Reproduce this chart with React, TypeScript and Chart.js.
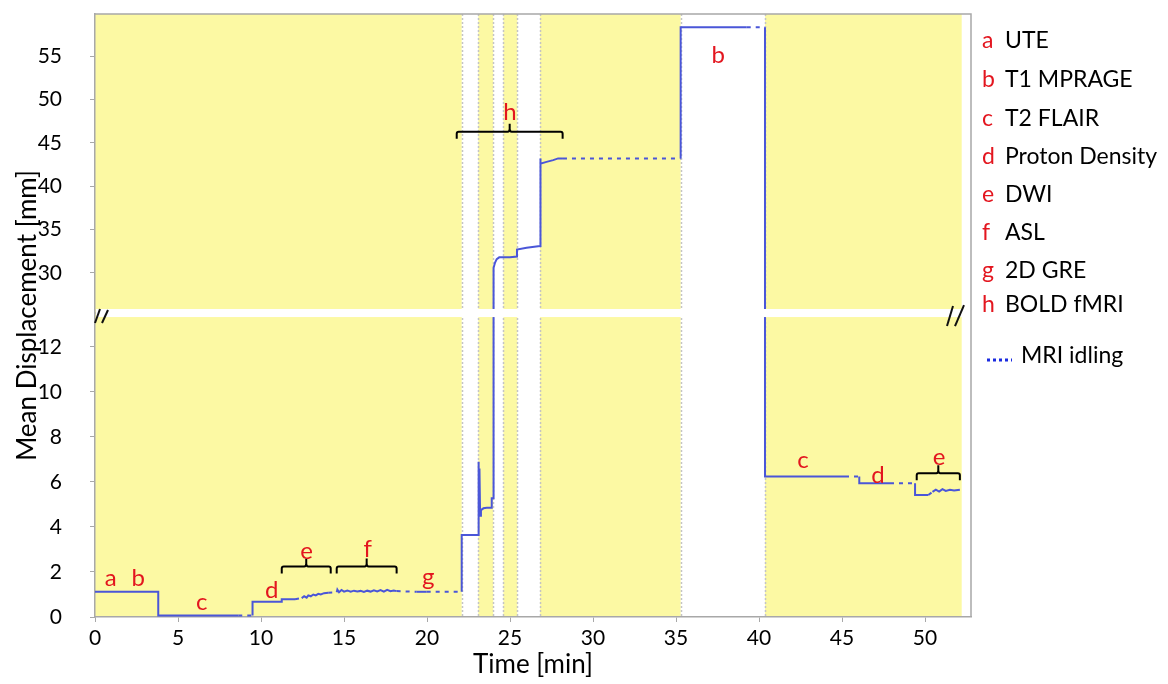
import React, { useEffect, useRef } from 'react';
import { Chart, registerables } from 'chart.js';

Chart.register(...registerables);

const FONT = 'Lato, "Open Sans", sans-serif';
const YELLOW = '#fcf9a3';
const LINE_BLUE = '#4a56d8';
const RED = '#e3161f';
const GREY = '#a8a8a8';

// ---------- data ----------
const timeMin = [
  0, 3.81, 3.81, 8.63, 9.49, 9.49, 11.25, 11.25, 12.05, 12.45,
  12.6, 12.75, 12.85, 13.0, 13.15, 13.3, 13.45, 13.6, 13.8, 14.05,
  14.56, 14.6, 14.7, 14.85, 15.0, 15.2, 15.4, 15.6, 15.8, 16.0,
  16.2, 16.4, 16.6, 16.8, 17.0, 17.2, 17.4, 17.6, 17.8, 18.0,
  18.17, 19.38, 19.98, 22.09, 22.09, 23.09, 23.09, 23.13, 23.16, 23.2,
  23.25, 23.4, 23.6, 23.9, 23.9, 23.99, 23.99, 24.03, 24.1, 24.2,
  24.35, 25.0, 25.42, 25.42, 26.0, 26.81, 26.81, 26.86, 27.2, 27.6,
  27.9, 28.19, 35.28, 35.28, 39.26, 40.36, 40.36, 45.18, 46.04, 46.04,
  47.89, 49.4, 49.4, 50.2, 50.45, 50.65, 50.85, 51.05, 51.25, 51.5,
  51.75, 52.1,
];
const meanDispMm = [
  1.12, 1.12, 0.07, 0.07, 0.07, 0.68, 0.68, 0.79, 0.79, 0.84,
  0.92, 0.86, 0.96, 0.92, 1.0, 0.96, 1.03, 1.0, 1.06, 1.08,
  1.1, 1.22, 1.1, 1.2, 1.13, 1.18, 1.12, 1.17, 1.13, 1.16,
  1.11, 1.17, 1.13, 1.19, 1.14, 1.2, 1.13, 1.21, 1.15, 1.18,
  1.15, 1.12, 1.12, 1.12, 3.64, 3.64, 6.9, 5.2, 6.6, 4.5,
  4.75, 4.83, 4.85, 4.85, 5.28, 5.28, 29.8, 30.6, 31.2, 31.6,
  31.8, 31.8, 31.9, 32.7, 32.9, 33.1, 43.2, 42.6, 42.8, 43.0,
  43.2, 43.2, 43.2, 58.3, 58.3, 58.3, 6.24, 6.24, 6.24, 5.94,
  5.94, 5.94, 5.42, 5.42, 5.56, 5.66, 5.57, 5.68, 5.6, 5.65,
  5.62, 5.66,
];
// MRI idling periods (dotted line)
const idleStart = [8.63, 12.05, 14.05, 18.17, 19.98, 28.19, 39.26, 45.18, 47.89, 50.2];
const idleEnd = [9.49, 12.45, 14.56, 19.38, 22.09, 35.28, 40.36, 46.04, 49.4, 50.45];

// white (non-scanning) gaps in the yellow background
const gapStart = [22.09, 23.99, 25.44, 35.28];
const gapEnd = [23.09, 24.6, 26.81, 40.36];
const yellowEnd = 52.21;
const xMax = 52.77;

// broken y-axis ranges
const lowerMin = 0;
const lowerMax = 13.51;
const upperMin = 25.39;
const upperMax = 59.84;
const breakUpperValue = 25.85;
const breakLowerValue = 13.33;

// legend
const legendLetters = ['a', 'b', 'c', 'd', 'e', 'f', 'g', 'h'];
const legendNames = ['UTE', 'T1 MPRAGE', 'T2 FLAIR', 'Proton Density', 'DWI', 'ASL', '2D GRE', 'BOLD fMRI'];
const idleLabel = 'MRI idling';

// annotation letters on the trace
const annoLetter = ['a', 'b', 'c', 'd', 'e', 'f', 'g', 'h', 'b', 'c', 'd', 'e'];
const annoTime = [0.95, 2.61, 6.43, 10.64, 12.75, 16.43, 20.08, 25.0, 37.55, 42.65, 47.17, 50.84];
const annoValue = [1.38, 1.38, 0.31, 0.84, 2.58, 2.67, 1.42, 47.63, 54.19, 6.62, 5.96, 6.76];
const annoPanel = ['lo', 'lo', 'lo', 'lo', 'lo', 'lo', 'lo', 'hi', 'hi', 'lo', 'lo', 'lo'];

// brackets grouping the scans
const bracketStart = [11.25, 14.56, 21.79, 49.5];
const bracketEnd = [14.2, 18.17, 28.17, 52.1];
const bracketValue = [2.24, 2.24, 46.28, 6.39];
const bracketPanel = ['lo', 'lo', 'hi', 'lo'];

const isIdle = (t: number) => {
  for (let i = 0; i < idleStart.length; i++) {
    if (t > idleStart[i] && t < idleEnd[i]) return true;
  }
  return false;
};

const panelClip = {
  id: 'panelClip',
  beforeDatasetDraw(chart: any, args: any) {
    const ds = chart.data.datasets[args.index];
    const s = chart.scales[ds.yAxisID];
    const a = chart.chartArea;
    chart.ctx.save();
    chart.ctx.beginPath();
    chart.ctx.rect(a.left, s.top, a.right - a.left, s.bottom - s.top);
    chart.ctx.clip();
  },
  afterDatasetDraw(chart: any) {
    chart.ctx.restore();
  },
};

const background = {
  id: 'background',
  beforeDraw(chart: any) {
    const { ctx, chartArea: a, scales } = chart;
    const x = scales.x;
    ctx.save();
    ctx.fillStyle = '#ffffff';
    ctx.fillRect(0, 0, chart.width, chart.height);
    ctx.fillStyle = YELLOW;
    ctx.fillRect(a.left, a.top, x.getPixelForValue(yellowEnd) - a.left, a.bottom - a.top);
    ctx.fillStyle = '#ffffff';
    for (let i = 0; i < gapStart.length; i++) {
      const x0 = x.getPixelForValue(gapStart[i]);
      const x1 = x.getPixelForValue(gapEnd[i]);
      ctx.fillRect(x0, a.top, x1 - x0, a.bottom - a.top);
    }
    ctx.strokeStyle = '#c4c4c4';
    ctx.lineWidth = 1.5;
    ctx.setLineDash([2, 2]);
    const edges = gapStart.concat(gapEnd);
    for (const e of edges) {
      const px = Math.round(x.getPixelForValue(e)) + 0.5;
      ctx.beginPath();
      ctx.moveTo(px, a.top);
      ctx.lineTo(px, a.bottom);
      ctx.stroke();
    }
    ctx.restore();
  },
};

const overlay = {
  id: 'overlay',
  afterDraw(chart: any) {
    const { ctx, chartArea: a, scales } = chart;
    const x = scales.x;
    const yHi = scales.yTop;
    const yLo = scales.yBot;
    ctx.save();
    // break band
    const bTop = yHi.getPixelForValue(breakUpperValue);
    const bBot = yLo.getPixelForValue(breakLowerValue);
    ctx.fillStyle = '#ffffff';
    ctx.fillRect(a.left + 1, bTop, a.right - a.left - 2, bBot - bTop);
    const bMid = (bTop + bBot) / 2;

    // top and right borders
    ctx.strokeStyle = GREY;
    ctx.lineWidth = 1.5;
    ctx.beginPath();
    ctx.moveTo(a.left, a.top);
    ctx.lineTo(a.right, a.top);
    ctx.lineTo(a.right, a.bottom);
    ctx.stroke();

    // break marks
    ctx.strokeStyle = '#111';
    ctx.lineWidth = 2;
    const slash = (x0: number, y0: number, x1: number, y1: number) => {
      ctx.beginPath();
      ctx.moveTo(x0, y0);
      ctx.lineTo(x1, y1);
      ctx.stroke();
    };
    slash(a.left, bMid + 10, a.left + 5, bMid - 4);
    slash(a.left + 7, bMid + 10, a.left + 13, bMid - 3);
    slash(a.right - 24, bMid + 13, a.right - 18, bMid - 7);
    slash(a.right - 16, bMid + 13, a.right - 7, bMid - 8);

    // brackets
    ctx.strokeStyle = '#000';
    ctx.lineWidth = 2;
    for (let i = 0; i < bracketStart.length; i++) {
      const ys = bracketPanel[i] === 'hi' ? yHi : yLo;
      const x0 = x.getPixelForValue(bracketStart[i]);
      const x1 = x.getPixelForValue(bracketEnd[i]);
      const y = ys.getPixelForValue(bracketValue[i]);
      const xm = (x0 + x1) / 2;
      ctx.beginPath();
      ctx.moveTo(x0, y + 7);
      ctx.lineTo(x0, y + 2);
      ctx.quadraticCurveTo(x0, y, x0 + 2, y);
      ctx.lineTo(xm - 2, y);
      ctx.quadraticCurveTo(xm, y, xm, y - 3);
      ctx.lineTo(xm, y - 8);
      ctx.moveTo(xm, y - 3);
      ctx.quadraticCurveTo(xm, y, xm + 2, y);
      ctx.lineTo(x1 - 2, y);
      ctx.quadraticCurveTo(x1, y, x1, y + 2);
      ctx.lineTo(x1, y + 7);
      ctx.stroke();
    }

    // annotation letters
    ctx.fillStyle = RED;
    ctx.font = `24px ${FONT}`;
    ctx.textAlign = 'center';
    ctx.textBaseline = 'alphabetic';
    for (let i = 0; i < annoLetter.length; i++) {
      const ys = annoPanel[i] === 'hi' ? yHi : yLo;
      ctx.fillText(annoLetter[i], x.getPixelForValue(annoTime[i]), ys.getPixelForValue(annoValue[i]));
    }

    // y-axis title
    ctx.save();
    ctx.translate(28, (a.top + a.bottom) / 2);
    ctx.rotate(-Math.PI / 2);
    ctx.fillStyle = '#000';
    ctx.font = `26px ${FONT}`;
    ctx.textAlign = 'center';
    ctx.textBaseline = 'middle';
    ctx.fillText('Mean Displacement [mm]', 0, 0);
    ctx.restore();

    // legend
    const baselines = [48, 87, 126, 164, 202, 240, 278, 312];
    ctx.font = `23px ${FONT}`;
    ctx.textAlign = 'left';
    ctx.textBaseline = 'alphabetic';
    for (let i = 0; i < legendLetters.length; i++) {
      ctx.fillStyle = RED;
      ctx.fillText(legendLetters[i], 982, baselines[i]);
      ctx.fillStyle = '#000';
      ctx.fillText(legendNames[i], 1005, baselines[i]);
    }
    ctx.strokeStyle = '#1a2be0';
    ctx.lineWidth = 3;
    ctx.setLineDash([3, 3]);
    ctx.beginPath();
    ctx.moveTo(987, 360);
    ctx.lineTo(1012, 360);
    ctx.stroke();
    ctx.setLineDash([]);
    ctx.fillStyle = '#000';
    ctx.fillText(idleLabel, 1021, 363);
    ctx.restore();
  },
};

export default function App() {
  const ref = useRef<HTMLCanvasElement | null>(null);
  useEffect(() => {
    if (!ref.current) return;
    const points = timeMin.map((t, i) => ({ x: t, y: meanDispMm[i] }));
    const segment = {
      borderDash: (ctx: any) => {
        const mid = (ctx.p0.parsed.x + ctx.p1.parsed.x) / 2;
        return isIdle(mid) ? [4, 5] : undefined;
      },
    };
    const common = {
      data: points,
      borderColor: LINE_BLUE,
      borderWidth: 2,
      pointRadius: 0,
      tension: 0,
      fill: false,
      segment,
    };
    const tickFont = { family: FONT, size: 21 };
    const fitY = (s: any) => { s.width = 60; s.paddingTop = 0; s.paddingBottom = 0; };
    const chart = new Chart(ref.current, {
      type: 'line',
      data: {
        datasets: [
          { ...common, yAxisID: 'yTop' },
          { ...common, yAxisID: 'yBot' },
        ] as any,
      },
      options: {
        animation: false,
        responsive: true,
        maintainAspectRatio: false,
        layout: { padding: { left: 35, right: 197, top: 14, bottom: 5 } },
        plugins: { legend: { display: false }, tooltip: { enabled: false } },
        scales: {
          x: {
            type: 'linear',
            min: 0,
            max: xMax,
            afterFit: (s: any) => { s.height = 62; s.paddingLeft = 0; s.paddingRight = 0; },
            ticks: { stepSize: 5, font: tickFont, color: '#000', padding: 4, includeBounds: false, maxRotation: 0, autoSkip: false },
            grid: { display: true, drawOnChartArea: false, drawTicks: true, tickLength: 5, color: GREY },
            border: { display: true, color: GREY, width: 1.5 },
            title: { display: true, text: 'Time [min]', font: { family: FONT, size: 26, lineHeight: 1 }, color: '#000', padding: { top: 0, bottom: 1 } },
          },
          yTop: {
            type: 'linear',
            position: 'left',
            stack: 'y',
            stackWeight: 299,
            weight: 1,
            min: upperMin,
            max: upperMax,
            afterFit: fitY,
            ticks: { stepSize: 5, font: tickFont, color: '#000', padding: 28, includeBounds: false, autoSkip: false },
            grid: { display: true, drawOnChartArea: false, drawTicks: true, tickLength: 5, color: GREY },
            border: { display: true, color: GREY, width: 1.5 },
          },
          yBot: {
            type: 'linear',
            position: 'left',
            stack: 'y',
            stackWeight: 304,
            weight: 0,
            min: lowerMin,
            max: lowerMax,
            afterFit: fitY,
            ticks: { stepSize: 2, font: tickFont, color: '#000', padding: 28, includeBounds: false, autoSkip: false },
            grid: { display: true, drawOnChartArea: false, drawTicks: true, tickLength: 5, color: GREY },
            border: { display: true, color: GREY, width: 1.5 },
          },
        },
      } as any,
      plugins: [background, panelClip, overlay],
    });
    return () => chart.destroy();
  }, []);
  return (
    <div style={{ position: 'fixed', left: 0, top: 0, width: 1168, height: 684, background: '#fff' }}>
      <canvas ref={ref} />
    </div>
  );
}
